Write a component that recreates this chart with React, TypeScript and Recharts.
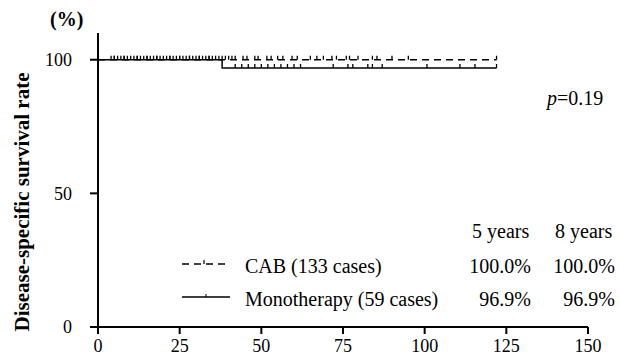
import { LineChart, Line, XAxis, YAxis } from 'recharts'

// months at which patients were censored (tick marks)
const cabCensor = [4, 5, 6, 7, 8, 9, 10, 11, 12, 13, 14, 15, 16, 17, 18, 19, 20, 21, 22, 23, 24, 25,
  26, 27, 28, 29, 30, 31, 32, 33, 34, 35, 36, 37, 38, 39, 40, 41, 42, 44.4, 45.6, 48, 49, 51.7,
  53, 55, 56.6, 59.4, 61, 65, 67, 69, 71.6, 73, 76, 77, 79.6, 84, 85.4, 90, 95, 122]
const monoCensor = [5, 8, 12, 15, 18, 22, 25, 28, 31, 34, 42, 44, 46, 48, 50, 52, 54, 56, 58, 60,
  62, 72, 76.5, 78, 82.6, 84, 87, 100.7, 110.8, 115.4, 122]
const cabEventTimes = [0]
const cabEventSurv = [100]
const monoEventTimes = [0, 38]
const monoEventSurv = [100, 96.9]

const xTicks = [0, 25, 50, 75, 100, 125, 150]
const yTicks = [0, 50, 100]

function build(evT: number[], evS: number[], cens: number[]) {
  const pts = evT.map((t, i) => ({ t, s: evS[i], c: false }))
  cens.forEach(t => {
    let s = evS[0]
    evT.forEach((et, i) => { if (et <= t) s = evS[i] })
    pts.push({ t, s, c: true })
  })
  return pts.sort((a, b) => a.t - b.t)
}

const cabData = build(cabEventTimes, cabEventSurv, cabCensor)
const monoData = build(monoEventTimes, monoEventSurv, monoCensor)

const font = '"Liberation Serif", "Times New Roman", Times, serif'

const Tick = (p: any) => {
  if (!p.payload || !p.payload.c) return <g key={p.key} />
  return <line key={p.key} x1={p.cx} x2={p.cx} y1={p.cy - 4} y2={p.cy}
    stroke='#000' strokeWidth={1.3} />
}

const txt = (extra: any) => ({ position: 'absolute' as const, fontFamily: font, fontSize: 20,
  color: '#000', whiteSpace: 'nowrap' as const, lineHeight: 1, ...extra })

export default function App() {
  return (
    <div style={{ position: 'absolute', left: 0, top: 0, width: 620, height: 361, background: '#fff' }}>
      <LineChart width={620} height={361} data={cabData}
        margin={{ top: 33, right: 32, left: 38, bottom: 4 }}>
        <XAxis dataKey='t' type='number' domain={[0, 150]} ticks={xTicks} height={30}
          axisLine={{ stroke: '#000', strokeWidth: 2 }} tickLine={{ stroke: '#000', strokeWidth: 2 }}
          tickSize={7} tickMargin={5}
          tick={{ fontFamily: font, fontSize: 18, fill: '#000' }} />
        <YAxis type='number' domain={[0, 110]} ticks={yTicks} width={60}
          axisLine={{ stroke: '#000', strokeWidth: 2 }} tickLine={{ stroke: '#000', strokeWidth: 2 }}
          tickSize={8} tickMargin={18}
          tick={{ fontFamily: font, fontSize: 18, fill: '#000' }} />
        <Line data={monoData} dataKey='s' type='stepAfter' stroke='#000' strokeWidth={1.5}
          dot={Tick} activeDot={false} isAnimationActive={false} />
        <Line data={cabData} dataKey='s' type='stepAfter' stroke='#000' strokeWidth={1.5}
          strokeDasharray='7 5' dot={Tick} activeDot={false} isAnimationActive={false} />
      </LineChart>

      <div style={txt({ left: 50, top: 9, fontWeight: 'bold' })}>(%)</div>
      <div style={txt({ left: 22, top: 202, fontWeight: 'bold', fontSize: 21,
        transform: 'translate(-50%, -50%) rotate(-90deg)' })}>Disease-specific survival rate</div>
      <div style={txt({ left: 547, top: 88 })}><i>p</i>=0.19</div>

      <div style={txt({ left: 472, top: 221 })}>5 years</div>
      <div style={txt({ left: 555, top: 221 })}>8 years</div>
      <div style={txt({ left: 245, top: 256 })}>CAB (133 cases)</div>
      <div style={txt({ right: 620 - 531, top: 256 })}>100.0%</div>
      <div style={txt({ right: 620 - 615, top: 256 })}>100.0%</div>
      <div style={txt({ left: 245, top: 289 })}>Monotherapy (59 cases)</div>
      <div style={txt({ right: 620 - 531, top: 289 })}>96.9%</div>
      <div style={txt({ right: 620 - 615, top: 289 })}>96.9%</div>

      <svg style={{ position: 'absolute', left: 0, top: 0 }} width={620} height={361}>
        <line x1={182} x2={230} y1={264} y2={264} stroke='#000' strokeWidth={1.5} strokeDasharray='7 5' />
        <line x1={204} x2={204} y1={260} y2={264} stroke='#000' strokeWidth={1.2} />
        <line x1={182} x2={230} y1={297} y2={297} stroke='#000' strokeWidth={1.5} />
        <line x1={206} x2={206} y1={294} y2={297} stroke='#000' strokeWidth={1} />
      </svg>
    </div>
  )
}
